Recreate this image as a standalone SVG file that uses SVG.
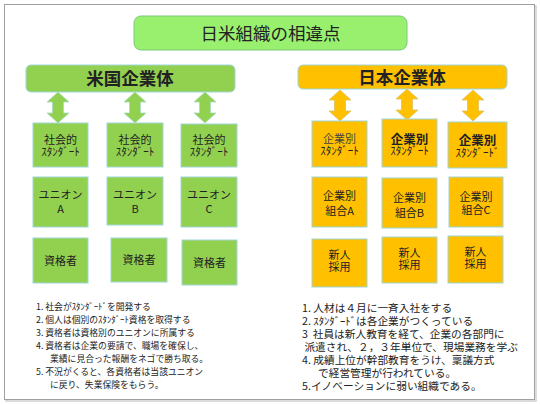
<svg xmlns="http://www.w3.org/2000/svg" xmlns:xlink="http://www.w3.org/1999/xlink" width="540" height="405" viewBox="0 0 540 405">
<style>
text{font-family:"Noto Sans CJK JP","Noto Sans CJK SC",sans-serif;fill:#222;text-anchor:middle}
.g{fill:#92D050;stroke:#9fd6d6;stroke-width:1}
.o{fill:#FFC000;stroke:#9fd6d6;stroke-width:1}
.ag{fill:#92D050;stroke:#a8dcc0;stroke-width:0.8}
.ao{fill:#FFC000;stroke:#e0c060;stroke-width:0.8}
.bx{font-size:11px}
.bb{font-size:12.5px;font-weight:bold}
.hd{font-size:17.5px;font-weight:bold}
.ls{font-size:8.8px;text-anchor:start;white-space:pre}
.rs{font-size:10.7px;text-anchor:start;white-space:pre}
</style>
<defs>
<path id="arr" d="M0,0 L11,10 L5.5,10 L5.5,21 L11,21 L0,31 L-11,21 L-5.5,21 L-5.5,10 L-11,10 Z"/>
</defs>
<rect x="0" y="0" width="540" height="405" fill="#fff"/>
<g id="frame">
<rect x="6" y="6" width="530" height="395" fill="none" stroke="#d0d0d0" stroke-width="1.5"/>
<rect x="4.5" y="4.5" width="530" height="395" fill="#fff" stroke="#a0a0a0" stroke-width="1"/>
</g>
<g id="title">
<rect x="134" y="16" width="273" height="34" rx="7" fill="#98F06E" stroke="#7cc87c" stroke-width="1"/>
<text x="270.5" y="39.5" style="font-size:17.5px">日米組織の相違点</text>
</g>
<g id="connectors">
<use xlink:href="#arr" href="#arr" class="ag" x="58" y="92"/>
<use xlink:href="#arr" href="#arr" class="ag" x="135" y="92"/>
<use xlink:href="#arr" href="#arr" class="ag" x="205" y="92"/>
<use xlink:href="#arr" href="#arr" class="ao" x="340" y="90"/>
<use xlink:href="#arr" href="#arr" class="ao" x="407" y="89"/>
<use xlink:href="#arr" href="#arr" class="ao" x="473" y="90"/>
</g>
<g id="us-header">
<rect x="26" y="65" width="209" height="27" rx="5" class="g"/>
<text x="130" y="85" class="hd">米国企業体</text>
</g>
<g id="jp-header">
<rect x="298" y="65" width="209" height="24" rx="5" class="o"/>
<text x="402" y="84" class="hd">日本企業体</text>
</g>
<g id="us-std1"><rect x="33" y="123" width="55" height="44" class="g"/><text class="bx"><tspan x="60.5" y="143.5">社会的</tspan><tspan x="60.5" y="156">ｽﾀﾝﾀﾞｰﾄ</tspan></text></g>
<g id="us-std2"><rect x="107" y="123" width="56" height="44" class="g"/><text class="bx"><tspan x="135" y="143.5">社会的</tspan><tspan x="135" y="156">ｽﾀﾝﾀﾞｰﾄ</tspan></text></g>
<g id="us-std3"><rect x="181" y="124" width="56" height="43" class="g"/><text class="bx"><tspan x="209" y="143.5">社会的</tspan><tspan x="209" y="156">ｽﾀﾝﾀﾞｰﾄ</tspan></text></g>
<g id="us-union-a"><rect x="33" y="177" width="55" height="50" class="g"/><text class="bx"><tspan x="60.5" y="199">ユニオン</tspan><tspan x="60.5" y="213">A</tspan></text></g>
<g id="us-union-b"><rect x="107" y="177" width="56" height="48" class="g"/><text class="bx"><tspan x="135" y="199">ユニオン</tspan><tspan x="135" y="213">B</tspan></text></g>
<g id="us-union-c"><rect x="181" y="177" width="56" height="50" class="g"/><text class="bx"><tspan x="209" y="199">ユニオン</tspan><tspan x="209" y="213">C</tspan></text></g>
<g id="us-qual1"><rect x="33" y="238" width="55" height="45" class="g"/><text x="60.5" y="265" class="bx">資格者</text></g>
<g id="us-qual2"><rect x="111" y="238" width="56" height="44" class="g"/><text x="139" y="264" class="bx">資格者</text></g>
<g id="us-qual3"><rect x="182" y="240" width="55" height="45" class="g"/><text x="209.5" y="267" class="bx">資格者</text></g>
<g id="jp-std1"><rect x="312" y="121" width="55" height="46" class="o"/><text class="bx"><tspan x="339.5" y="143" style="fill:#444">企業別</tspan><tspan x="339.5" y="155">ｽﾀﾝﾀﾞｰﾄ</tspan></text></g>
<g id="jp-std2"><rect x="382" y="119" width="55" height="48" class="o"/><text class="bx"><tspan x="409.5" y="143.5" class="bb">企業別</tspan><tspan x="409.5" y="155">ｽﾀﾝﾀﾞｰﾄ</tspan></text></g>
<g id="jp-std3"><rect x="448" y="122" width="59" height="46" class="o"/><text class="bx"><tspan x="477.5" y="145" class="bb">企業別</tspan><tspan x="477.5" y="157">ｽﾀﾝﾀﾞｰﾄﾞ</tspan></text></g>
<g id="jp-union-a"><rect x="312" y="177" width="55" height="50" class="o"/><text class="bx"><tspan x="339.5" y="200">企業別</tspan><tspan x="339.5" y="215">組合A</tspan></text></g>
<g id="jp-union-b"><rect x="382" y="178" width="55" height="50" class="o"/><text class="bx"><tspan x="409.5" y="202">企業別</tspan><tspan x="409.5" y="217">組合B</tspan></text></g>
<g id="jp-union-c"><rect x="449" y="177" width="54" height="50" class="o"/><text class="bx"><tspan x="476" y="200.5">企業別</tspan><tspan x="476" y="214">組合C</tspan></text></g>
<g id="jp-hire1"><rect x="312" y="239" width="55" height="48" class="o"/><text class="bx"><tspan x="339.5" y="258.5">新人</tspan><tspan x="339.5" y="270.5">採用</tspan></text></g>
<g id="jp-hire2"><rect x="382" y="237" width="55" height="46" class="o"/><text class="bx"><tspan x="409.5" y="257">新人</tspan><tspan x="409.5" y="269">採用</tspan></text></g>
<g id="jp-hire3"><rect x="448" y="236" width="55" height="47" class="o"/><text class="bx"><tspan x="475.5" y="256">新人</tspan><tspan x="475.5" y="268">採用</tspan></text></g>
<g id="us-notes">
<text class="ls"><tspan x="36" y="310">1. 社会がｽﾀﾝﾀﾞｰﾄﾞを開発する</tspan><tspan x="36" y="323">2. 個人は個別のｽﾀﾝﾀﾞｰﾄ資格を取得する</tspan><tspan x="36" y="336">3. 資格者は資格別のユニオンに所属する</tspan><tspan x="36" y="349">4. 資格者は企業の要請で、職場を確保し、</tspan><tspan x="50" y="362">業績に見合った報酬をネゴで勝ち取る。</tspan><tspan x="36" y="375">5. 不況がくると、各資格者は当該ユニオン</tspan><tspan x="50" y="388">に戻り、失業保険をもらう。</tspan></text>
</g>
<g id="jp-notes">
<text class="rs"><tspan x="302" y="311.5">1. 人材は４月に一斉入社をする</tspan><tspan x="302" y="324.5">2. ｽﾀﾝﾀﾞｰﾄﾞは各企業がつくっている</tspan><tspan x="302" y="337.5">3  社員は新人教育を経て、企業の各部門に</tspan><tspan x="302" y="350.5"> 派遣され、２，３年単位で、現場業務を学ぶ</tspan><tspan x="302" y="363.5">4. 成績上位が幹部教育をうけ、稟議方式</tspan><tspan x="318" y="376.5">で経営管理が行われている。</tspan><tspan x="302" y="389.5">5.イノベーションに弱い組織である。</tspan></text>
</g>
</svg>
